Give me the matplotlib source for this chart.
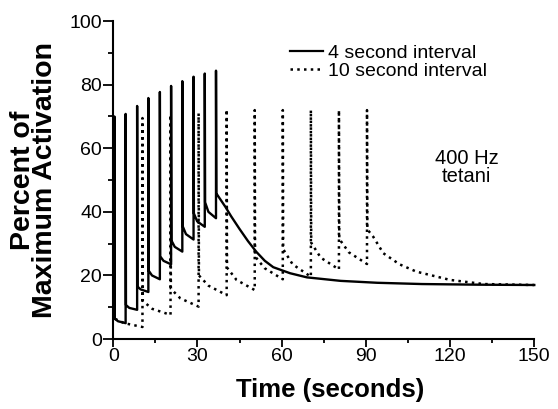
import matplotlib
matplotlib.use("Agg")
import matplotlib.pyplot as plt
from matplotlib.lines import Line2D
from matplotlib.ticker import MultipleLocator

plt.rcParams['font.family'] = ['Liberation Sans', 'DejaVu Sans']

# 4 second interval: spike times, peaks, level just after each spike,
# level ~1.3 s later, and level just before the next spike
t4_spikes = [0.4, 4.4, 8.5, 12.5, 16.6, 20.6, 24.6, 28.6, 32.6, 36.6]
t4_peaks = [70, 70.8, 73.3, 75.8, 77.7, 79.6, 81.1, 82.5, 83.5, 84.4]
t4_post = [6.4, 10.7, 16.5, 21.5, 26.0, 31.0, 35.5, 39.5, 43.0, 45.8]
t4_mid = [5.6, 9.8, 15.6, 20.0, 24.6, 29.0, 33.0, 37.0, 40.0]
t4_pre = [5.0, 9.2, 14.8, 18.8, 23.5, 27.5, 31.3, 35.3, 38.0]
t4_tail_t = [40, 42, 45, 48, 51, 54, 57, 63, 69, 81, 94, 110, 130, 150]
t4_tail_y = [41.5, 38.6, 34.6, 30.8, 27.4, 24.6, 22.6, 20.7, 19.4, 18.3, 17.7, 17.3, 17.1, 17.0]

# 10 second interval
t10_spikes = [0.4, 10.4, 20.4, 30.4, 40.4, 50.4, 60.4, 70.4, 80.4, 90.4]
t10_peaks = [70, 69.5, 70.5, 71.0, 72.2, 72.0, 72.0, 72.0, 72.0, 72.0]
t10_post = [6.4, 12.0, 15.8, 20.0, 22.5, 26.0, 28.3, 30.3, 31.5, 34.5]
t10_mid = [5.0, 9.5, 12.8, 16.8, 18.6, 22.3, 23.5, 25.6, 27.3]
t10_pre = [3.8, 7.6, 10.2, 13.8, 15.4, 18.8, 19.6, 21.9, 23.6]
t10_tail_t = [92.6, 96.2, 102, 108, 120, 132, 150]
t10_tail_y = [32.2, 27.0, 23.5, 21.2, 18.6, 17.3, 17.0]


def build(spikes, peaks, post, mid, pre, mid_dt, tail_t, tail_y):
    xs, ys = [spikes[0]], [post[0]]
    for i, ts in enumerate(spikes):
        xs += [ts, ts + 0.12]
        ys += [peaks[i], post[i]]
        if i < len(pre):
            xs += [ts + mid_dt, spikes[i + 1]]
            ys += [mid[i], pre[i]]
    xs += tail_t
    ys += tail_y
    return xs, ys


x4, y4 = build(t4_spikes, t4_peaks, t4_post, t4_mid, t4_pre, 1.3, t4_tail_t, t4_tail_y)
x10, y10 = build(t10_spikes, t10_peaks, t10_post, t10_mid, t10_pre, 3.5, t10_tail_t, t10_tail_y)

fig = plt.figure(figsize=(5.58, 4.09), dpi=100)
ax = fig.add_axes([0.203, 0.171, 0.7545, 0.7775])

dot_style = (0, (1, 1.7))
ax.plot(x10, y10, color='black', lw=1.8, linestyle=dot_style, clip_on=False)
ax.plot(x4, y4, color='black', lw=1.7, clip_on=False)

ax.set_xlim(0, 150)
ax.set_ylim(0, 100)
ax.spines['top'].set_visible(False)
ax.spines['right'].set_visible(False)
for s in ['left', 'bottom']:
    ax.spines[s].set_linewidth(1.5)

ax.xaxis.set_major_locator(MultipleLocator(30))
ax.xaxis.set_minor_locator(MultipleLocator(15))
ax.yaxis.set_major_locator(MultipleLocator(20))
ax.yaxis.set_minor_locator(MultipleLocator(10))
ax.tick_params(axis='x', which='major', direction='out', length=5.5, width=1.3, pad=1, labelsize=14)
ax.tick_params(axis='x', which='minor', direction='out', length=3, width=1.3)
ax.tick_params(axis='y', which='major', direction='out', length=7, width=1.3, pad=1, labelsize=14)
ax.tick_params(axis='y', which='minor', direction='out', length=3.5, width=1.3)

fig.text(0.591, 0.047, 'Time (seconds)', fontsize=18.5, fontweight='bold',
         ha='center', va='center')
fig.text(0.061, 0.56, 'Percent of\nMaximum Activation', fontsize=20.5, fontweight='bold',
         rotation=90, ha='center', va='center', multialignment='center', linespacing=0.82)

ax.text(126, 54, '400 Hz\ntetani', fontsize=14.5, ha='center', va='center',
        multialignment='center', linespacing=0.9)

handles = [Line2D([], [], color='black', lw=1.6),
           Line2D([], [], color='black', lw=1.8, linestyle=dot_style)]
ax.legend(handles, ['4 second interval', '10 second interval'],
          loc='upper left', bbox_to_anchor=(290 / 558, 1 - 44 / 409),
          bbox_transform=fig.transFigure, frameon=False, fontsize=14,
          handlelength=1.7, handletextpad=0.25, labelspacing=0.02, borderpad=0,
          borderaxespad=0)

fig.savefig('out.png', dpi=100)
